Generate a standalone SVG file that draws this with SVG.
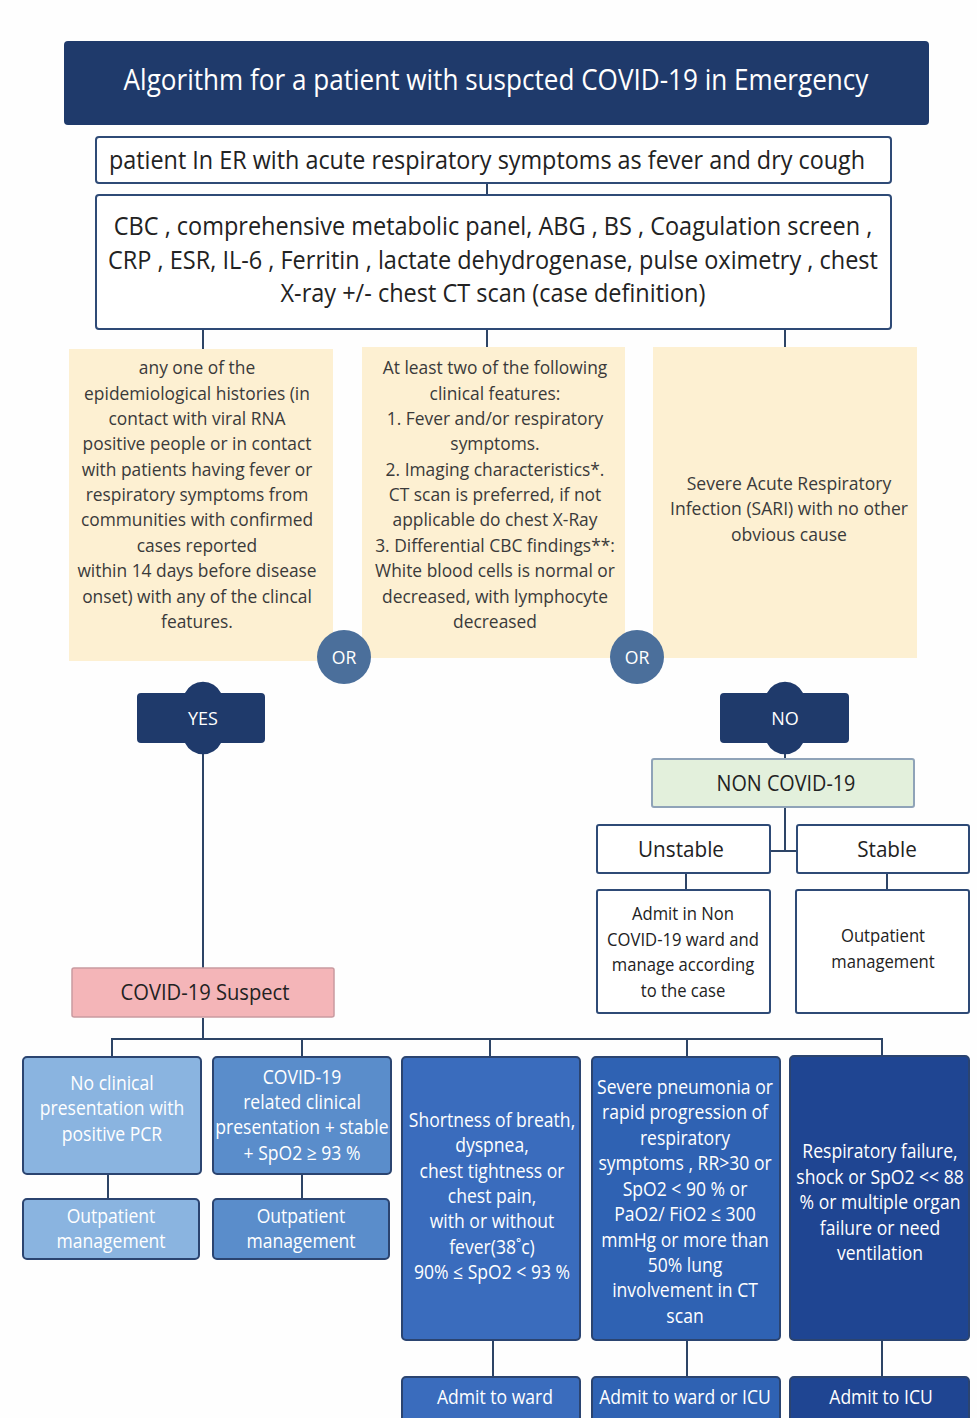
<svg xmlns="http://www.w3.org/2000/svg" width="977" height="1418" viewBox="0 0 977 1418">
<style>
.t{font-family:"Open Sans","Noto Sans",sans-serif;text-anchor:middle}
.w{fill:#ffffff}
.d{fill:#222222}
.g{fill:#3a3a3a}
.wb{fill:#ffffff;stroke:#2e4a76;stroke-width:2}
.cream{fill:#fdf0d2}
.or{fill:#4b6f9b}
.nav{fill:#1f3a6b}
.bb{stroke:#2b4470;stroke-width:2}
.c{stroke:#2d4466;stroke-width:2;fill:none}
</style>
<rect width="977" height="1418" fill="#fefefe"/>
<g id="connectors">
<line class="c" x1="487" y1="183" x2="487" y2="195"/>
<line class="c" x1="203" y1="329" x2="203" y2="349"/>
<line class="c" x1="487" y1="329" x2="487" y2="347"/>
<line class="c" x1="785" y1="329" x2="785" y2="347"/>
<line class="c" x1="203" y1="744" x2="203" y2="968"/>
<line class="c" x1="785" y1="744" x2="785" y2="759"/>
<polyline class="c" points="785,807 785,851"/>
<line class="c" x1="770" y1="851" x2="797" y2="851"/>
<line class="c" x1="686" y1="873" x2="686" y2="890"/>
<line class="c" x1="887" y1="873" x2="887" y2="890"/>
<line class="c" x1="203" y1="1018" x2="203" y2="1039"/>
<polyline class="c" points="112,1057 112,1039 882,1039 882,1057"/>
<line class="c" x1="302" y1="1039" x2="302" y2="1057"/>
<line class="c" x1="490" y1="1039" x2="490" y2="1057"/>
<line class="c" x1="687" y1="1039" x2="687" y2="1057"/>
<line class="c" x1="108" y1="1174" x2="108" y2="1199"/>
<line class="c" x1="302" y1="1174" x2="302" y2="1199"/>
<line class="c" x1="493" y1="1340" x2="493" y2="1377"/>
<line class="c" x1="687" y1="1340" x2="687" y2="1377"/>
<line class="c" x1="882" y1="1340" x2="882" y2="1377"/>
</g>
<g id="title">
<rect class="nav" x="64" y="41" width="865" height="84" rx="4"/>
<text class="t w" font-size="29" transform="translate(496 0) scale(0.9 1)"><tspan x="0" y="90">Algorithm for a patient with suspcted COVID-19 in Emergency</tspan></text>
</g>
<g id="patient">
<rect class="wb" x="96" y="137" width="795" height="46" rx="3"/>
<text class="t d" font-size="25" transform="translate(487 0) scale(0.935 1)"><tspan x="0" y="169">patient In ER with acute respiratory symptoms as fever and dry cough</tspan></text>
</g>
<g id="tests">
<rect class="wb" x="96" y="195" width="795" height="134" rx="3"/>
<text class="t d" font-size="25" transform="translate(493 0) scale(0.94 1)"><tspan x="0" y="235">CBC , comprehensive metabolic panel, ABG , BS , Coagulation screen ,</tspan><tspan x="0" y="269">CRP , ESR, IL-6 , Ferritin , lactate dehydrogenase, pulse oximetry , chest</tspan><tspan x="0" y="302">X-ray +/- chest CT scan (case definition)</tspan></text>
</g>
<g id="epi">
<rect class="cream" x="69" y="349" width="264" height="312"/>
<text class="t g" font-size="18.5" transform="translate(197 0) scale(0.94 1)"><tspan x="0" y="374">any one of the</tspan><tspan x="0" y="400">epidemiological histories (in</tspan><tspan x="0" y="425">contact with viral RNA</tspan><tspan x="0" y="450">positive people or in contact</tspan><tspan x="0" y="476">with patients having fever or</tspan><tspan x="0" y="501">respiratory symptoms from</tspan><tspan x="0" y="526">communities with confirmed</tspan><tspan x="0" y="552">cases reported</tspan><tspan x="0" y="577">within 14 days before disease</tspan><tspan x="0" y="603">onset) with any of the clincal</tspan><tspan x="0" y="628">features.</tspan></text>
</g>
<g id="clinical">
<rect class="cream" x="362" y="347" width="263" height="311"/>
<text class="t g" font-size="18.5" transform="translate(495 0) scale(0.94 1)"><tspan x="0" y="374">At least two of the following</tspan><tspan x="0" y="400">clinical features:</tspan><tspan x="0" y="425">1. Fever and/or respiratory</tspan><tspan x="0" y="450">symptoms.</tspan><tspan x="0" y="476">2. Imaging characteristics*.</tspan><tspan x="0" y="501">CT scan is preferred, if not</tspan><tspan x="0" y="526">applicable do chest X-Ray</tspan><tspan x="0" y="552">3. Differential CBC findings**:</tspan><tspan x="0" y="577">White blood cells is normal or</tspan><tspan x="0" y="603">decreased, with lymphocyte</tspan><tspan x="0" y="628">decreased</tspan></text>
</g>
<g id="sari">
<rect class="cream" x="653" y="347" width="264" height="311"/>
<text class="t g" font-size="18.5" transform="translate(789 0) scale(0.95 1)"><tspan x="0" y="490">Severe Acute Respiratory</tspan><tspan x="0" y="515">Infection (SARI) with no other</tspan><tspan x="0" y="541">obvious cause</tspan></text>
</g>
<g id="or1">
<circle class="or" cx="344" cy="657" r="27"/>
<text class="t w" font-size="18" transform="translate(344 0) scale(0.98 1)"><tspan x="0" y="664">OR</tspan></text>
</g>
<g id="or2">
<circle class="or" cx="637" cy="657" r="27"/>
<text class="t w" font-size="18" transform="translate(637 0) scale(0.98 1)"><tspan x="0" y="664">OR</tspan></text>
</g>
<g id="yes">
<path class="nav" d="M141 693 H185 A20 20 0 0 1 221 693 H261 Q265 693 265 697 V739 Q265 743 261 743 H221 A20 20 0 0 1 185 743 H141 Q137 743 137 739 V697 Q137 693 141 693 Z"/>
<text class="t w" font-size="18" transform="translate(203 0) scale(1 1)"><tspan x="0" y="725">YES</tspan></text>
</g>
<g id="no">
<path class="nav" d="M724 693 H767 A20 20 0 0 1 803 693 H845 Q849 693 849 697 V739 Q849 743 845 743 H803 A20 20 0 0 1 767 743 H724 Q720 743 720 739 V697 Q720 693 724 693 Z"/>
<text class="t w" font-size="18" transform="translate(785 0) scale(1 1)"><tspan x="0" y="725">NO</tspan></text>
</g>
<g id="noncovid">
<rect x="652" y="759" width="262" height="48" rx="2" fill="#e3f0dc" stroke="#8fa3b8" stroke-width="2"/>
<text class="t d" font-size="22" transform="translate(786 0) scale(0.9 1)"><tspan x="0" y="791">NON COVID-19</tspan></text>
</g>
<g id="unstable">
<rect class="wb" x="597" y="825" width="173" height="48" rx="2"/>
<text class="t d" font-size="22" transform="translate(681 0) scale(0.94 1)"><tspan x="0" y="857">Unstable</tspan></text>
</g>
<g id="stable">
<rect class="wb" x="797" y="825" width="172" height="48" rx="2"/>
<text class="t d" font-size="22" transform="translate(887 0) scale(0.94 1)"><tspan x="0" y="857">Stable</tspan></text>
</g>
<g id="admitnon">
<rect class="wb" x="597" y="890" width="173" height="123" rx="2"/>
<text class="t d" font-size="18.5" transform="translate(683 0) scale(0.9 1)"><tspan x="0" y="920">Admit in Non</tspan><tspan x="0" y="946">COVID-19 ward and</tspan><tspan x="0" y="971">manage according</tspan><tspan x="0" y="997">to the case</tspan></text>
</g>
<g id="outpt">
<rect class="wb" x="796" y="890" width="173" height="123" rx="2"/>
<text class="t d" font-size="18.5" transform="translate(883 0) scale(0.9 1)"><tspan x="0" y="942">Outpatient</tspan><tspan x="0" y="968">management</tspan></text>
</g>
<g id="suspect">
<rect x="72" y="968" width="262" height="49" rx="2" fill="#f4b5b8" stroke="#c99aa0" stroke-width="1.5"/>
<text class="t d" font-size="21" transform="translate(205 0) scale(0.96 1)"><tspan x="0" y="1000">COVID-19 Suspect</tspan></text>
</g>
<g id="noclin">
<rect class="bb" x="23" y="1057" width="178" height="117" rx="4" fill="#8ab4e0"/>
<text class="t w" font-size="19.5" transform="translate(112 0) scale(0.9 1)"><tspan x="0" y="1090">No clinical</tspan><tspan x="0" y="1115">presentation with</tspan><tspan x="0" y="1141">positive PCR</tspan></text>
</g>
<g id="outpt1">
<rect class="bb" x="23" y="1199" width="176" height="60" rx="4" fill="#8ab4e0"/>
<text class="t w" font-size="19.5" transform="translate(111 0) scale(0.9 1)"><tspan x="0" y="1223">Outpatient</tspan><tspan x="0" y="1248">management</tspan></text>
</g>
<g id="related">
<rect class="bb" x="213" y="1057" width="178" height="117" rx="4" fill="#5a8dcb"/>
<text class="t w" font-size="19.5" transform="translate(302 0) scale(0.9 1)"><tspan x="0" y="1084">COVID-19</tspan><tspan x="0" y="1109">related clinical</tspan><tspan x="0" y="1134">presentation + stable</tspan><tspan x="0" y="1160">+ SpO2 ≥ 93 %</tspan></text>
</g>
<g id="outpt2">
<rect class="bb" x="213" y="1199" width="176" height="60" rx="4" fill="#5a8dcb"/>
<text class="t w" font-size="19.5" transform="translate(301 0) scale(0.9 1)"><tspan x="0" y="1223">Outpatient</tspan><tspan x="0" y="1248">management</tspan></text>
</g>
<g id="sob">
<rect class="bb" x="402" y="1057" width="178" height="283" rx="4" fill="#3a6cbd"/>
<text class="t w" font-size="19.5" transform="translate(492 0) scale(0.9 1)"><tspan x="0" y="1127">Shortness of breath,</tspan><tspan x="0" y="1152">dyspnea,</tspan><tspan x="0" y="1178">chest tightness or</tspan><tspan x="0" y="1203">chest pain,</tspan><tspan x="0" y="1228">with or without</tspan><tspan x="0" y="1254">fever(38˚c)</tspan><tspan x="0" y="1279">90% ≤ SpO2 &lt; 93 %</tspan></text>
</g>
<g id="ward">
<rect class="bb" x="402" y="1377" width="178" height="50" rx="4" fill="#3a6cbd"/>
<text class="t w" font-size="19.5" transform="translate(495 0) scale(0.9 1)"><tspan x="0" y="1404">Admit to ward</tspan></text>
</g>
<g id="severe">
<rect class="bb" x="592" y="1057" width="188" height="283" rx="4" fill="#2f62b3"/>
<text class="t w" font-size="19.5" transform="translate(685 0) scale(0.9 1)"><tspan x="0" y="1094">Severe pneumonia or</tspan><tspan x="0" y="1119">rapid progression of</tspan><tspan x="0" y="1145">respiratory</tspan><tspan x="0" y="1170">symptoms , RR&gt;30 or</tspan><tspan x="0" y="1196">SpO2 &lt; 90 % or</tspan><tspan x="0" y="1221">PaO2/ FiO2 ≤ 300</tspan><tspan x="0" y="1247">mmHg or more than</tspan><tspan x="0" y="1272">50% lung</tspan><tspan x="0" y="1297">involvement in CT</tspan><tspan x="0" y="1323">scan</tspan></text>
</g>
<g id="wardicu">
<rect class="bb" x="592" y="1377" width="188" height="50" rx="4" fill="#2f62b3"/>
<text class="t w" font-size="19.5" transform="translate(685 0) scale(0.9 1)"><tspan x="0" y="1404">Admit to ward or ICU</tspan></text>
</g>
<g id="failure">
<rect class="bb" x="790" y="1056" width="179" height="284" rx="4" fill="#1f4592"/>
<text class="t w" font-size="19.5" transform="translate(880 0) scale(0.9 1)"><tspan x="0" y="1158">Respiratory failure,</tspan><tspan x="0" y="1184">shock or SpO2 &lt;&lt; 88</tspan><tspan x="0" y="1209">% or multiple organ</tspan><tspan x="0" y="1235">failure or need</tspan><tspan x="0" y="1260">ventilation</tspan></text>
</g>
<g id="icu">
<rect class="bb" x="790" y="1377" width="179" height="50" rx="4" fill="#1f4592"/>
<text class="t w" font-size="19.5" transform="translate(881 0) scale(0.9 1)"><tspan x="0" y="1404">Admit to ICU</tspan></text>
</g>
</svg>
